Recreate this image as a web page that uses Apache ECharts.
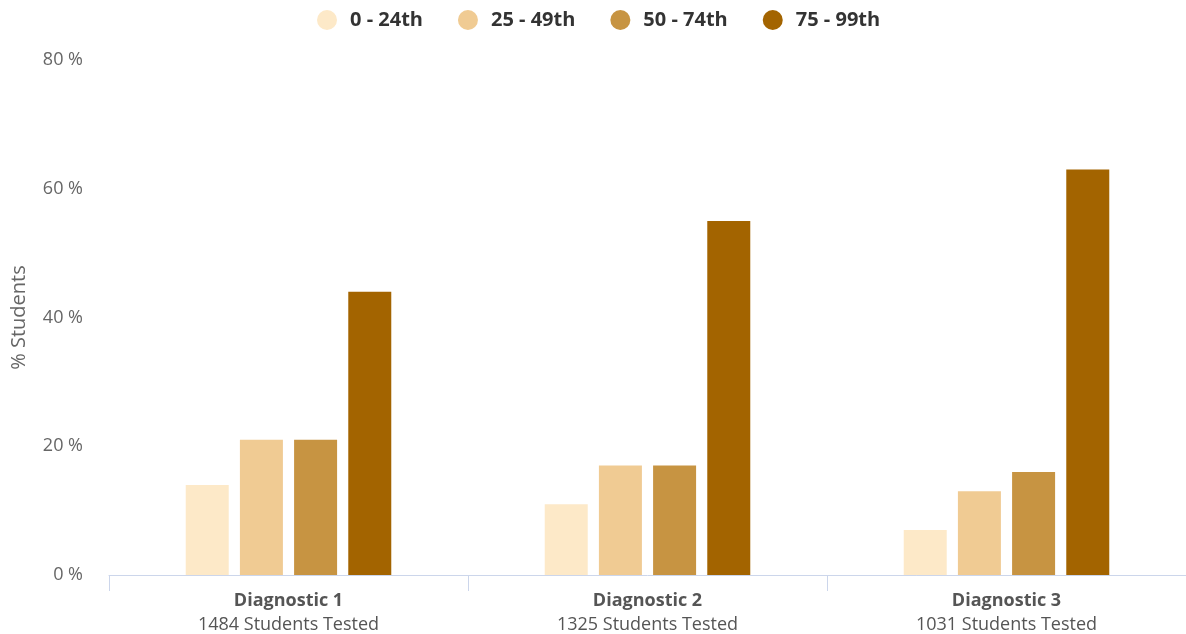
<!DOCTYPE html>
<html><head><meta charset="utf-8">
<script src="https://cdn.jsdelivr.net/npm/echarts@6/dist/echarts.min.js"></script>
<style>html,body{margin:0;padding:0;background:#fff}#c{width:1186px;height:634px}</style>
</head><body><div id="c"></div>
<script>
const categories = ['Diagnostic 1', 'Diagnostic 2', 'Diagnostic 3'];
const tested = [1484, 1325, 1031];
const seriesNames = ['0 - 24th', '25 - 49th', '50 - 74th', '75 - 99th'];
const s0 = [14, 11, 7];
const s1 = [21, 17, 13];
const s2 = [21, 17, 16];
const s3 = [44, 55, 63];
const yTicks = [0, 20, 40, 60, 80];
const colors = ['#FDE9C8', '#F0CB93', '#C79442', '#A36400'];
const values = [s0, s1, s2, s3];

const chart = echarts.init(document.getElementById('c'));
chart.setOption({
  animation: false,
  textStyle: { fontFamily: 'Open Sans' },
  legend: {
    top: 5, left: 312, icon: 'circle', itemWidth: 20, itemHeight: 20, itemGap: 35,
    textStyle: { fontFamily: 'Open Sans', fontWeight: 'bold', fontSize: 20, color: '#333', padding: [0, 0, 0, 8] }
  },
  grid: { left: 109, right: 0, top: 60, bottom: 56, containLabel: false },
  xAxis: {
    type: 'category', data: categories,
    axisLine: { lineStyle: { color: '#ccd6eb' } },
    axisTick: { show: true, length: 16, lineStyle: { color: '#ccd6eb' } },
    axisLabel: {
      margin: 14,
      formatter: (v, i) => '{b|' + v + '}\n{n|' + tested[i] + ' Students Tested}',
      rich: {
        b: { fontFamily: 'Open Sans', fontWeight: 'bold', fontSize: 18, color: '#555', lineHeight: 24 },
        n: { fontFamily: 'Open Sans', fontSize: 18, color: '#555', lineHeight: 24 }
      }
    }
  },
  yAxis: {
    type: 'value', min: 0, max: 80, interval: 20,
    name: '% Students', nameLocation: 'middle', nameGap: 80, nameRotate: 90,
    nameTextStyle: { fontFamily: 'Open Sans', fontSize: 20, color: '#666' },
    splitLine: { show: false },
    axisLine: { show: false }, axisTick: { show: false },
    axisLabel: { margin: 26, fontFamily: 'Open Sans', fontSize: 18, color: '#666',
      formatter: v => yTicks.includes(v) ? v + ' %' : '' }
  },
  series: seriesNames.map((n, i) => ({
    name: n, type: 'bar', data: values[i], barWidth: 43, barGap: '26%',
    itemStyle: { color: colors[i] }
  }))
});
</script></body></html>
